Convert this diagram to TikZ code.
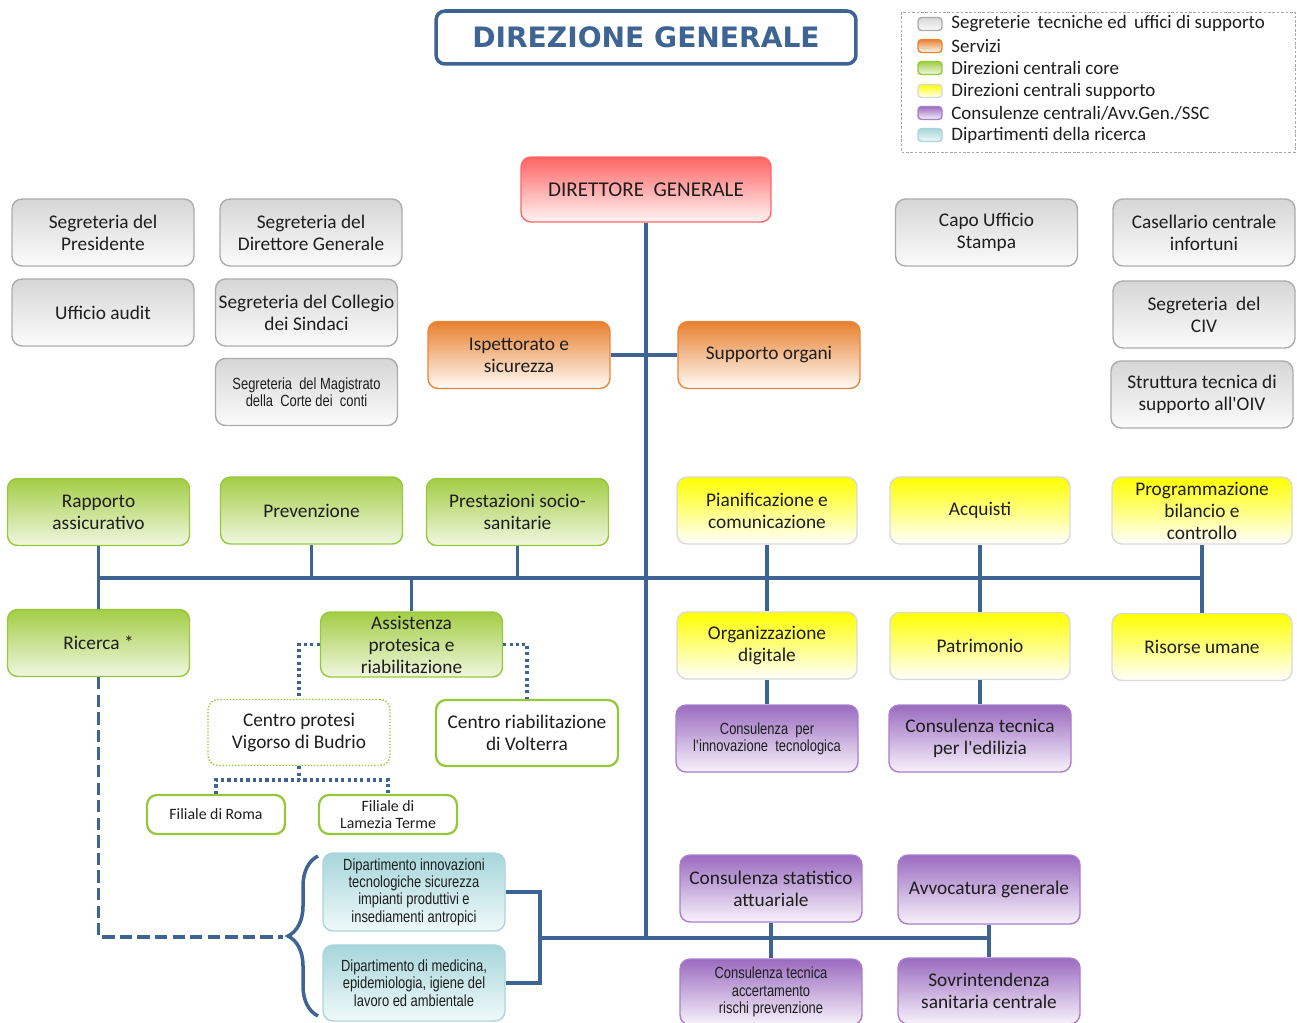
\documentclass[tikz,border=0pt]{standalone}
\usepackage{fontspec}
\setmainfont{Carlito}
\newfontfamily\titlefont{DejaVu Sans}
\newfontfamily\narrowfont[FakeStretch=0.8]{Liberation Sans}
\usetikzlibrary{calc,decorations.pathreplacing}
\definecolor{orgline}{HTML}{3E6494}
\definecolor{txt}{HTML}{1E1E1E}
\newcommand{\nodefont}{\fontsize{11}{12.5}\selectfont}
\newcommand{\smallnarrow}{\narrowfont\fontsize{9.2}{9.8}\selectfont}
\newcommand{\apo}{\textquotesingle}
\tikzset{
  box/.style={rounded corners=0.2cm,minimum width=3.64cm,minimum height=1.34cm,
    align=center,font=\nodefont,text=txt,line width=0.8pt,inner sep=1pt},
  segr/.style={box,draw=gray!65,top color=gray!32,bottom color=gray!3},
  capo/.style={box,draw=red!60,top color={rgb,255:red,255;green,100;blue,100},bottom color=red!4},
  serv/.style={box,draw={rgb,255:red,232;green,135;blue,58},top color={rgb,255:red,232;green,128;blue,47},bottom color=orange!3},
  core/.style={box,draw={rgb,255:red,150;green,200;blue,60},top color={rgb,255:red,163;green,205;blue,69},bottom color={rgb,255:red,240;green,247;blue,224}},
  supp/.style={box,draw=gray!30,top color=yellow,bottom color=white},
  cons/.style={box,draw={rgb,255:red,170;green,125;blue,205},top color={rgb,255:red,154;green,107;blue,192},bottom color={rgb,255:red,248;green,242;blue,251}},
  dip/.style={box,draw={rgb,255:red,170;green,213;blue,219},top color={rgb,255:red,166;green,214;blue,218},bottom color={rgb,255:red,240;green,249;blue,250}},
  sede/.style={box,draw={rgb,255:red,150;green,200;blue,60},line width=1.3pt,fill=white},
  conn/.style={draw=orgline,line width=2.2pt},
  dots/.style={draw=orgline,line width=1.8pt,dash pattern=on 1.8pt off 1.8pt},
  lgkey/.style={minimum width=0.48cm,minimum height=0.26cm,rounded corners=2pt,inner sep=0pt},
  lgtext/.style={anchor=west,font=\fontsize{10.8}{12}\selectfont,text=txt,inner sep=0pt}
}
\begin{document}
\begin{tikzpicture}[x=0.02cm,y=-0.02cm]
\useasboundingbox (0,0) rectangle (1297,1023);
\fill[white] (0,0) rectangle (1297,1023);

\node[draw=orgline,line width=2pt,rounded corners=0.18cm,minimum width=8.4cm,minimum height=1.06cm,
  text=orgline,font=\titlefont\bfseries\fontsize{16}{18}\selectfont] (titolo) at (646,37.5) {DIREZIONE GENERALE};

\draw[gray!70,dash pattern=on 1.5pt off 1pt] (901,12) rectangle (1295,152);
\node[segr,lgkey] (k1) at (930,24) {};  \node[lgtext] (t1) at (951,24) {Segreterie\, tecniche ed\, uffici di supporto};
\node[serv,lgkey] (k2) at (930,46) {};  \node[lgtext] (t2) at (951,46) {Servizi};
\node[core,lgkey] (k3) at (930,68) {};  \node[lgtext] (t3) at (951,68) {Direzioni centrali core};
\node[supp,lgkey] (k4) at (930,91) {};  \node[lgtext] (t4) at (951,91) {Direzioni centrali supporto};
\node[cons,lgkey] (k5) at (930,113) {}; \node[lgtext] (t5) at (951,113) {Consulenze centrali/Avv.Gen./SSC};
\node[dip,lgkey] (k6) at (930,135) {};  \node[lgtext] (t6) at (951,135) {Dipartimenti della ricerca};

\node[capo,minimum width=5cm,minimum height=1.3cm,font=\fontsize{12}{14}\selectfont] (dg) at (646,189.5) {DIRETTORE\ \ GENERALE};

\node[segr] (pres) at (103,232.5) {Segreteria del\\Presidente};
\node[segr] (sdg) at (311,232.5) {Segreteria del\\Direttore Generale};
\node[segr] (audit) at (103,312.5) {Ufficio audit};
\node[segr] (coll) at (306.5,312.5) {Segreteria del Collegio\\dei Sindaci};
\node[segr,font=\smallnarrow] (mag) at (306.5,392) {Segreteria\ \ del Magistrato\\della\ \ Corte dei\ \ conti};
\node[segr] (stampa) at (986.5,232.5) {Capo Ufficio\\Stampa};
\node[segr] (casell) at (1204,232.5) {Casellario centrale\\infortuni};
\node[segr] (civ) at (1204,314.5) {Segreteria\ \ del\\CIV};
\node[segr] (oiv) at (1202,394.5) {Struttura tecnica di\\supporto all\apo OIV};

\node[serv] (isp) at (519,355) {Ispettorato e\\sicurezza};
\node[serv] (sorg) at (769,355) {Supporto organi};

\node[core] (rapp) at (98.5,512) {Rapporto\\assicurativo};
\node[core] (prev) at (311.5,510.5) {Prevenzione};
\node[core] (prest) at (517.5,512) {Prestazioni socio-\\sanitarie};
\node[supp,minimum width=3.6cm] (pian) at (767,510.5) {Pianificazione e\\comunicazione};
\node[supp,minimum width=3.6cm] (acq) at (980,510.5) {Acquisti};
\node[supp,minimum width=3.6cm] (prog) at (1202,510.5) {Programmazione\\bilancio e\\controllo};

\node[core] (ric) at (98.5,643) {Ricerca *};
\node[core,minimum height=1.3cm] (assist) at (411.5,644.5) {Assistenza\\protesica e\\riabilitazione};
\node[supp,minimum width=3.6cm] (orgd) at (767,645.5) {Organizzazione\\digitale};
\node[supp,minimum width=3.6cm] (patr) at (980,646) {Patrimonio};
\node[supp,minimum width=3.6cm] (ris) at (1202,647) {Risorse umane};

\node[box,draw={rgb,255:red,150;green,200;blue,60},densely dotted,fill=white,minimum height=1.32cm] (protesi) at (299,732.5) {Centro protesi\\Vigorso di Budrio};
\node[sede,minimum height=1.32cm] (volt) at (527,733) {Centro riabilitazione\\di Volterra};
\node[sede,minimum width=2.76cm,minimum height=0.78cm,font=\fontsize{9}{10}\selectfont] (roma) at (216,814.5) {Filiale di Roma};
\node[sede,minimum width=2.76cm,minimum height=0.78cm,font=\fontsize{9}{10}\selectfont] (lam) at (388,814.5) {Filiale di\\Lamezia Terme};

\node[cons,font=\smallnarrow] (cinn) at (767,738.5) {Consulenza\ \ per\\l\apo innovazione\ \ tecnologica};
\node[cons] (cedil) at (980,738.5) {Consulenza tecnica\\per l\apo edilizia};
\node[cons] (cstat) at (771,888.5) {Consulenza statistico\\attuariale};
\node[cons,minimum height=1.38cm] (avv) at (989,889.5) {Avvocatura generale};
\node[cons,font=\smallnarrow,minimum height=1.32cm] (cacc) at (771,992) {Consulenza tecnica\\accertamento\\rischi prevenzione};
\node[cons,minimum height=1.32cm] (sovr) at (989,991) {Sovrintendenza\\sanitaria centrale};

\node[dip,font=\smallnarrow,minimum height=1.56cm] (dip1) at (414,892) {Dipartimento innovazioni\\tecnologiche sicurezza\\impianti produttivi e\\insediamenti antropici};
\node[dip,font=\smallnarrow,minimum height=1.52cm] (dip2) at (414,983) {Dipartimento di medicina,\\epidemiologia, igiene del\\lavoro ed ambientale};

\coordinate (jb) at (646,938);
\coordinate (bus) at (98.5,578);
\coordinate (dr) at (540,938);
\coordinate (fj) at (299,780);
\coordinate (brtip) at (283,937);

\draw[conn] (dg.south) -- (jb);
\draw[conn] (isp.east) -- (sorg.west);
\draw[conn] (bus) -- (prog.south |- bus);
\draw[conn] (rapp.south) -- (ric.north);
\draw[conn] (prev.south) -- (prev.south |- bus);
\draw[conn] (prest.south) -- (prest.south |- bus);
\draw[conn] (assist.north) -- (assist.north |- bus);
\draw[conn] (pian.south) -- (orgd.north);
\draw[conn] (acq.south) -- (patr.north);
\draw[conn] (prog.south) -- (ris.north);
\draw[conn] (orgd.south) -- (cinn.north);
\draw[conn] (patr.south) -- (cedil.north);
\draw[conn] (dip1.east) -| (dr) |- (dip2.east);
\draw[conn] (dr) -- (avv.south |- dr);
\draw[conn] (cstat.south) -- (cacc.north);
\draw[conn] (avv.south) -- (sovr.north);

\draw[dots] (assist.west) -| (protesi.north);
\draw[dots] (assist.east) -| (volt.north);
\draw[dots] (protesi.south) -- (fj);
\draw[dots] (roma.north) |- (fj) -| (lam.north);

\draw[draw=orgline,line width=2pt,dash pattern=on 7pt off 3pt] (ric.south) |- (brtip);
\draw[draw=orgline,line width=2pt,decorate,decoration={brace,amplitude=0.6cm}] (318,1016) -- (318,856);
\end{tikzpicture}
\end{document}
